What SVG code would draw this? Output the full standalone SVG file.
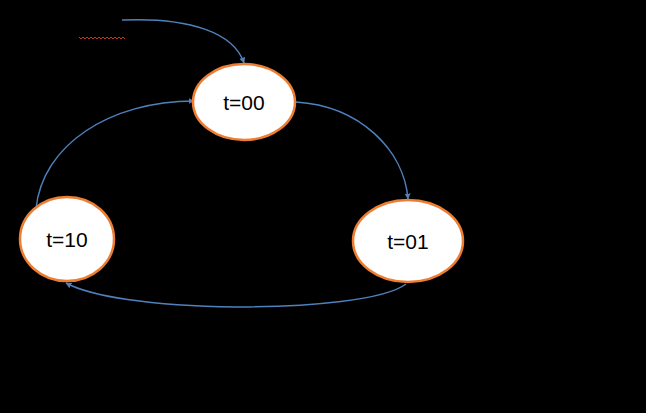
<svg xmlns="http://www.w3.org/2000/svg" width="646" height="413" viewBox="0 0 646 413">
<style>
.node ellipse{fill:#ffffff;stroke:#ED7D31;stroke-width:2.5}
.node text{font-family:"Liberation Sans","Open Sans",sans-serif;font-size:21px;fill:#000;text-anchor:middle;dominant-baseline:central}
.conn path{fill:none;stroke:#4F81BD;stroke-width:1.5;marker-end:url(#arr)}
</style>
<defs>
<marker id="arr" viewBox="0 0 10 10" refX="9" refY="5" markerWidth="6" markerHeight="6" orient="auto" markerUnits="userSpaceOnUse">
<path d="M0,0 L10,5 L0,10 z" fill="#4F81BD"/>
</marker>
</defs>
<rect x="0" y="0" width="646" height="413" fill="#000"/>
<polyline points="79,37 81,39 83,37 85,39 87,37 89,39 91,37 93,39 95,37 97,39 99,37 101,39 103,37 105,39 107,37 109,39 111,37 113,39 115,37 117,39 119,37 121,39 123,37 125,39" fill="none" stroke="#C0392B" stroke-width="1"/>
<g class="conn">
<path d="M122,20 C190,17 234,33 244,63"/>
<path d="M296,102 C360,106 404,150 408,199"/>
<path d="M406,284 C385,300 310,307 235,307 C150,306 90,296 66,283"/>
<path d="M36,209 C42,145 110,101 194,101"/>
</g>
<g id="n00" class="node"><ellipse cx="244" cy="102" rx="51" ry="38"/><text x="244" y="102">t=00</text></g>
<g id="n10" class="node"><ellipse cx="67" cy="239" rx="47" ry="42"/><text x="67" y="239">t=10</text></g>
<g id="n01" class="node"><ellipse cx="408" cy="241" rx="55" ry="41"/><text x="408" y="241">t=01</text></g>
</svg>
